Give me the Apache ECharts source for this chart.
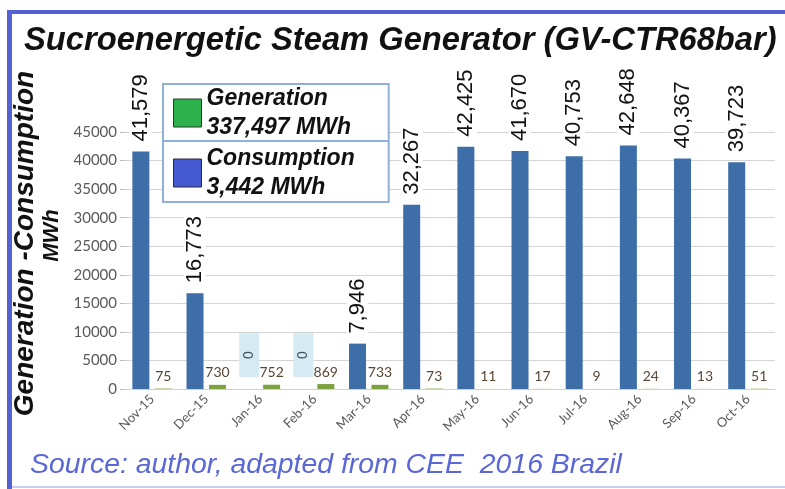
<!DOCTYPE html>
<html>
<head>
<meta charset="utf-8">
<title>Sucroenergetic Steam Generator</title>
<script src="https://cdn.jsdelivr.net/npm/echarts@6/dist/echarts.min.js"></script>
<style>
  html, body { margin: 0; padding: 0; background: #fff; }
  #main { width: 785px; height: 489px; }
</style>
</head>
<body>
<div id="main"></div>
<script>
// data
const months = ['Nov-15', 'Dec-15', 'Jan-16', 'Feb-16', 'Mar-16', 'Apr-16',
                'May-16', 'Jun-16', 'Jul-16', 'Aug-16', 'Sep-16', 'Oct-16'];
const generation = [41579, 16773, 0, 0, 7946, 32267, 42425, 41670, 40753, 42648, 40367, 39723];
const consumption = [75, 730, 752, 869, 733, 73, 11, 17, 9, 24, 13, 51];
const seriesNames = ['Generation', 'Consumption'];
const legendTotals = ['337,497 MWh', '3,442 MWh'];
const yMax = 45000;
const yStep = 5000;

const chartDom = document.getElementById('main');
const myChart = echarts.init(chartDom);

const fmt = v => Number(v).toLocaleString('en-US');
const SANS = 'Liberation Sans, Arial, sans-serif';

// zero months get the small boxed label like in the original
const zeroLabel = {
  fontSize: 14,
  color: '#3d4e5e',
  backgroundColor: '#d6eaf4',
  padding: [3, 18, 3, 18],
  distance: 12
};

const option = {
  backgroundColor: '#fff',
  title: [
    {
      text: 'Sucroenergetic Steam Generator (GV-CTR68bar)',
      left: 24,
      top: 24,
      padding: 0,
      textStyle: {
        fontFamily: SANS,
        fontSize: 32.7,
        fontWeight: 'bold',
        fontStyle: 'italic',
        color: '#111'
      }
    },
    {
      text: 'Source: author, adapted from CEE  2016 Brazil',
      left: 30,
      top: 451,
      padding: 0,
      textStyle: {
        fontFamily: SANS,
        fontSize: 28.4,
        fontWeight: 'normal',
        fontStyle: 'italic',
        color: '#5a67d6'
      }
    }
  ],
  legend: {
    orient: 'vertical',
    left: 163,
    top: 84,
    padding: [0, 34, 0, 10],
    itemWidth: 28,
    itemHeight: 28,
    itemGap: 2,
    icon: 'rect',
    borderColor: '#8fb1d9',
    borderWidth: 2,
    backgroundColor: '#fff',
    selectedMode: false,
    data: [
      { name: seriesNames[0], itemStyle: { color: '#2bb24c', borderColor: '#2a3a2a', borderWidth: 1 } },
      { name: seriesNames[1], itemStyle: { color: '#4458cf', borderColor: '#2a2a3a', borderWidth: 1 } }
    ],
    formatter: name => name + '\n' + legendTotals[seriesNames.indexOf(name)],
    textStyle: {
      fontFamily: SANS,
      fontSize: 23,
      fontWeight: 'bold',
      fontStyle: 'italic',
      color: '#111',
      lineHeight: 29
    }
  },
  grid: {
    left: 125,
    right: 10,
    top: 132,
    bottom: 100,
    containLabel: false
  },
  xAxis: {
    type: 'category',
    data: months,
    axisLine: { show: true, lineStyle: { color: '#d0d0d0' } },
    axisTick: { show: false },
    axisLabel: {
      rotate: 45,
      margin: 8,
      fontFamily: 'Lato, sans-serif',
      fontSize: 13,
      color: '#595959'
    }
  },
  yAxis: {
    type: 'value',
    min: 0,
    max: yMax,
    interval: yStep,
    name: '{a|Generation -Consumption}\n{b|MWh}',
    nameLocation: 'middle',
    nameGap: 40,
    nameTextStyle: {
      rich: {
        a: { fontFamily: SANS, fontSize: 28, fontWeight: 'bold', fontStyle: 'italic', color: '#111', lineHeight: 27, padding: [0, 0, 0, 34] },
        b: { fontFamily: SANS, fontSize: 22, fontWeight: 'bold', fontStyle: 'italic', color: '#111', lineHeight: 26, padding: [0, 0, 0, 50] }
      }
    },
    axisLine: { show: false },
    axisTick: { show: true, length: 5, lineStyle: { color: '#bdbdbd' } },
    axisLabel: {
      margin: 8,
      fontFamily: 'Lato, sans-serif',
      fontSize: 15,
      color: '#595959',
      formatter: v => String(v)
    },
    splitLine: { lineStyle: { color: '#d4d4d4', width: 1 } }
  },
  series: [
    {
      name: seriesNames[0],
      type: 'bar',
      barWidth: 17,
      barGap: '32%',
      itemStyle: { color: '#3d6ea8' },
      data: generation.map(v => v === 0 ? { value: v, label: zeroLabel } : v),
      label: {
        show: true,
        position: 'top',
        rotate: 90,
        align: 'left',
        verticalAlign: 'middle',
        distance: 8,
        fontFamily: SANS,
        fontSize: 22,
        color: '#111',
        backgroundColor: '#fff',
        padding: [0, 2],
        formatter: p => fmt(p.value)
      }
    },
    {
      name: seriesNames[1],
      type: 'bar',
      barWidth: 17,
      itemStyle: { color: '#7ba23f' },
      data: consumption,
      label: {
        show: true,
        position: 'top',
        distance: 5,
        fontFamily: 'Lato, sans-serif',
        fontSize: 14,
        color: '#5a4636',
        formatter: p => fmt(p.value)
      }
    }
  ],
  graphic: [
    // frame of the original slide
    { type: 'rect', shape: { x: 7, y: 10, width: 778, height: 4 }, style: { fill: '#5262d4' }, z: 10 },
    { type: 'rect', shape: { x: 7, y: 10, width: 5, height: 479 }, style: { fill: '#5262d4' }, z: 10 },
    { type: 'rect', shape: { x: 12, y: 486, width: 773, height: 2 }, style: { fill: '#c9cff3' }, z: 10 },
    // line between the two legend entries
    { type: 'line', shape: { x1: 163, y1: 141, x2: 389, y2: 141 }, style: { stroke: '#8fb1d9', lineWidth: 2 }, z: 20 }
  ]
};

myChart.setOption(option);

window.addEventListener('resize', () => myChart.resize());
</script>
</body>
</html>
